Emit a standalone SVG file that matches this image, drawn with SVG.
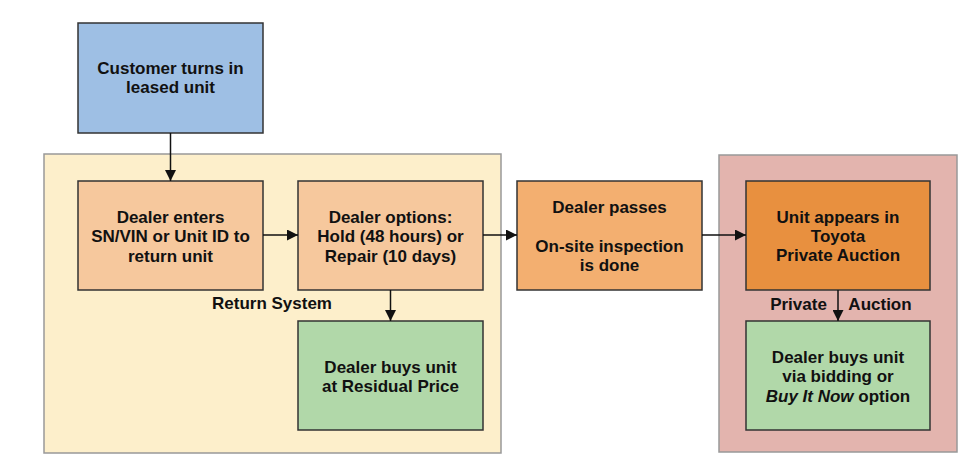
<svg xmlns="http://www.w3.org/2000/svg" width="978" height="467" viewBox="0 0 978 467">
<defs>
<marker id="ah" markerWidth="11" markerHeight="11" refX="11" refY="5.5" orient="auto" markerUnits="userSpaceOnUse">
<path d="M0,0 L11,5.5 L0,11 Z" fill="#111"/>
</marker>
<style>
text{font-family:"Liberation Sans",Arial,sans-serif;font-weight:bold;font-size:17px;fill:#111;text-anchor:middle}
.box{stroke:#333;stroke-width:1.5}
.cont{stroke:#999;stroke-width:1.5}
.conn{stroke:#111;stroke-width:1.5;fill:none;marker-end:url(#ah)}
</style>
</defs>
<rect width="978" height="467" fill="#fff"/>
<g id="return-system">
<rect class="cont" x="44" y="154" width="457" height="299" fill="#FDEFCB"/>
<text x="272" y="309">Return System</text>
</g>
<g id="private-auction-area">
<rect class="cont" x="719" y="155" width="238" height="297" fill="#E3B4AE"/>
</g>
<g id="customer">
<rect class="box" x="78" y="23" width="185" height="110" fill="#9EBFE4"/>
<text x="170.5" y="74">Customer turns in</text>
<text x="170.5" y="93">leased unit</text>
</g>
<g id="dealer-enters">
<rect class="box" x="78" y="181" width="185" height="109" fill="#F6C89D"/>
<text x="170.5" y="223">Dealer enters</text>
<text x="170.5" y="242">SN/VIN or Unit ID to</text>
<text x="170.5" y="262">return unit</text>
</g>
<g id="dealer-options">
<rect class="box" x="298" y="181" width="185" height="109" fill="#F6C89D"/>
<text x="390.5" y="223">Dealer options:</text>
<text x="390.5" y="242">Hold (48 hours) or</text>
<text x="390.5" y="262">Repair (10 days)</text>
</g>
<g id="dealer-buys-residual">
<rect class="box" x="298" y="321" width="185" height="109" fill="#B1D8A9"/>
<text x="390.5" y="373">Dealer buys unit</text>
<text x="390.5" y="392">at Residual Price</text>
</g>
<g id="dealer-passes">
<rect class="box" x="517" y="181" width="185" height="109" fill="#F3AF70"/>
<text x="609.5" y="213">Dealer passes</text>
<text x="609.5" y="252">On-site inspection</text>
<text x="609.5" y="271">is done</text>
</g>
<g id="unit-appears">
<rect class="box" x="746" y="181" width="184" height="109" fill="#E8903F"/>
<text x="838" y="223">Unit appears in</text>
<text x="838" y="242">Toyota</text>
<text x="838" y="261">Private Auction</text>
</g>
<g id="dealer-buys-bidding">
<rect class="box" x="746" y="321" width="184" height="109" fill="#B1D8A9"/>
<text x="838" y="363">Dealer buys unit</text>
<text x="838" y="382">via bidding or</text>
<text x="838" y="402"><tspan font-style="italic">Buy It Now</tspan> option</text>
</g>
<g id="connectors">
<line class="conn" x1="170.5" y1="133" x2="170.5" y2="181"/>
<line class="conn" x1="263" y1="235" x2="298" y2="235"/>
<line class="conn" x1="483" y1="235" x2="517" y2="235"/>
<line class="conn" x1="702" y1="235" x2="746" y2="235"/>
<line class="conn" x1="390.5" y1="290" x2="390.5" y2="321"/>
<line class="conn" x1="838" y1="290" x2="838" y2="321"/>
<text x="798.5" y="310">Private</text>
<text x="880" y="310">Auction</text>
</g>
</svg>
